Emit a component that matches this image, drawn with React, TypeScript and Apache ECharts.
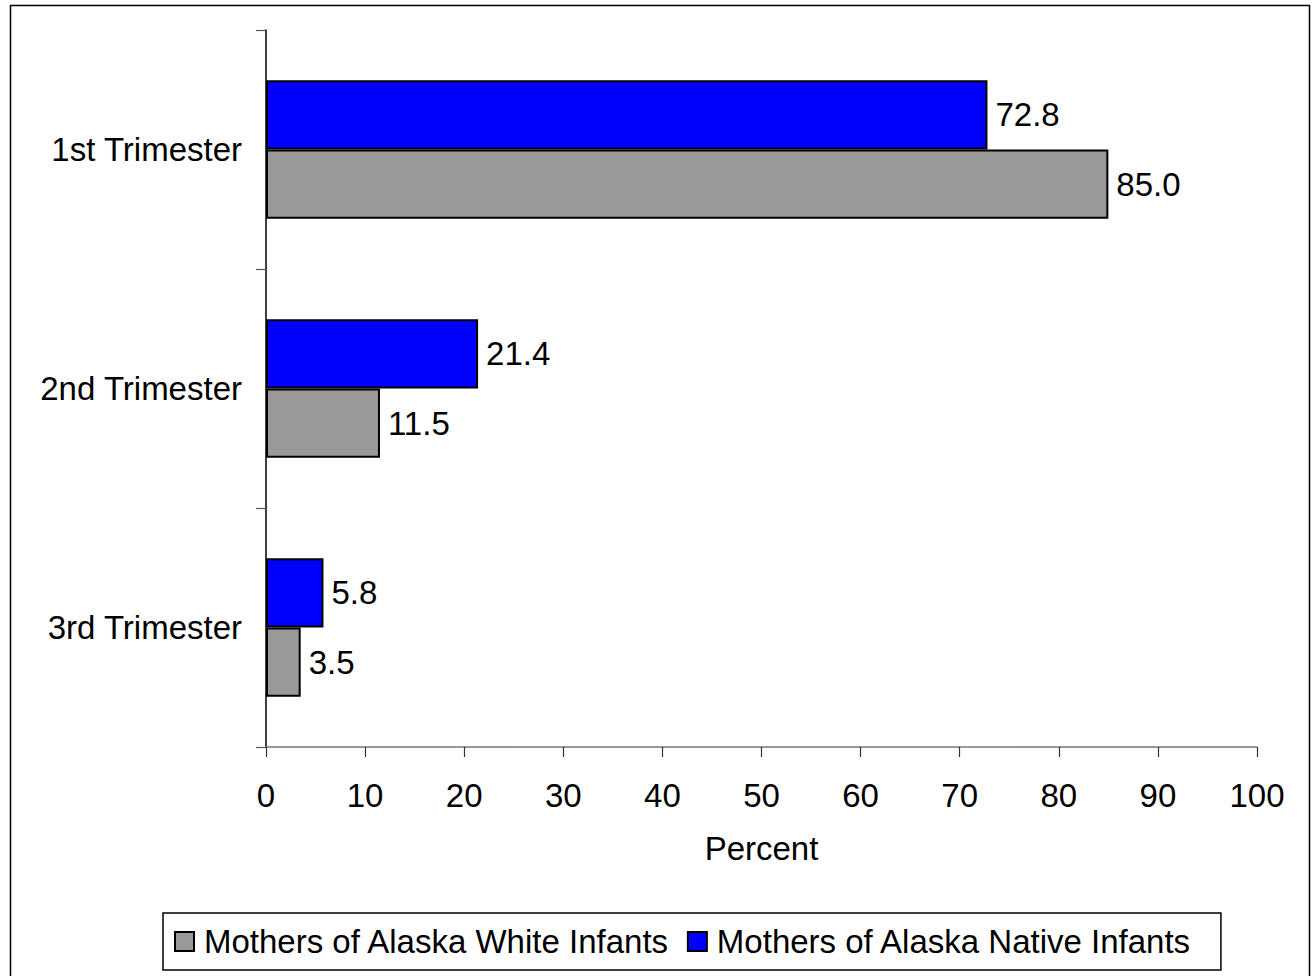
import React, { useEffect, useRef } from "react";
import * as echarts from "echarts";

const categories = ["1st Trimester", "2nd Trimester", "3rd Trimester"];
const nativeValues = [72.8, 21.4, 5.8];
const whiteValues = [85.0, 11.5, 3.5];
const seriesNames = ["Mothers of Alaska White Infants", "Mothers of Alaska Native Infants"];
const axisName = "Percent";

const FONT = "'Liberation Sans', Arial, sans-serif";
const FS = 33;

export default function App() {
  const ref = useRef<HTMLDivElement>(null);
  useEffect(() => {
    document.body.style.margin = "0";
    const chart = echarts.init(ref.current!, null, { renderer: "svg" });
    const label = {
      show: true,
      position: "right",
      distance: 8,
      color: "#000",
      fontSize: FS,
      fontFamily: FONT,
      formatter: (p: any) => Number(p.value).toFixed(1),
    };
    chart.setOption({
      animation: false,
      backgroundColor: "#fff",
      textStyle: { fontFamily: FONT },
      graphic: [
        {
          type: "rect",
          shape: { x: 10.5, y: 5.5, width: 1299, height: 975 },
          style: { fill: "none", stroke: "#000", lineWidth: 1.5 },
          silent: true,
          z: -10,
        },
      ],
      grid: { left: 266, right: 55, top: 30, bottom: 229, containLabel: false },
      legend: {
        data: [seriesNames[0], seriesNames[1]],
        left: 163,
        top: 913,
        orient: "horizontal",
        itemWidth: 19,
        itemHeight: 19,
        itemGap: 17,
        icon: "rect",
        padding: [12, 29, 12, 11],
        borderColor: "#000",
        borderWidth: 1.5,
        backgroundColor: "#fff",
        textStyle: { fontSize: FS, fontFamily: FONT, color: "#000", padding: [0, 0, 0, 5] },
      },
      xAxis: {
        type: "value",
        min: 0,
        max: 100,
        interval: 10,
        name: axisName,
        nameLocation: "middle",
        nameGap: 85,
        nameTextStyle: { fontSize: FS, fontFamily: FONT, color: "#000" },
        axisLine: { show: true, lineStyle: { color: "#777", width: 1.5 } },
        axisTick: { show: true, length: 10, lineStyle: { color: "#333", width: 1.2 } },
        axisLabel: { fontSize: FS, fontFamily: FONT, color: "#000", margin: 32 },
        splitLine: { show: false },
      },
      yAxis: {
        type: "category",
        data: categories,
        inverse: true,
        axisLine: { show: true, lineStyle: { color: "#000", width: 1.5 } },
        axisTick: { show: true, length: 10, lineStyle: { color: "#555", width: 1.2 } },
        axisLabel: { fontSize: FS, fontFamily: FONT, color: "#000", margin: 24 },
        splitLine: { show: false },
      },
      series: [
        {
          name: seriesNames[1],
          type: "bar",
          data: nativeValues,
          barGap: "0%",
          barCategoryGap: "42%",
          itemStyle: { color: "#0000ff", borderColor: "#000", borderWidth: 2 },
          label,
        },
        {
          name: seriesNames[0],
          type: "bar",
          data: whiteValues,
          barGap: "0%",
          barCategoryGap: "42%",
          itemStyle: { color: "#999999", borderColor: "#000", borderWidth: 2 },
          label,
        },
      ],
    });
    return () => chart.dispose();
  }, []);
  return <div ref={ref} style={{ width: 1312, height: 976 }} />;
}
